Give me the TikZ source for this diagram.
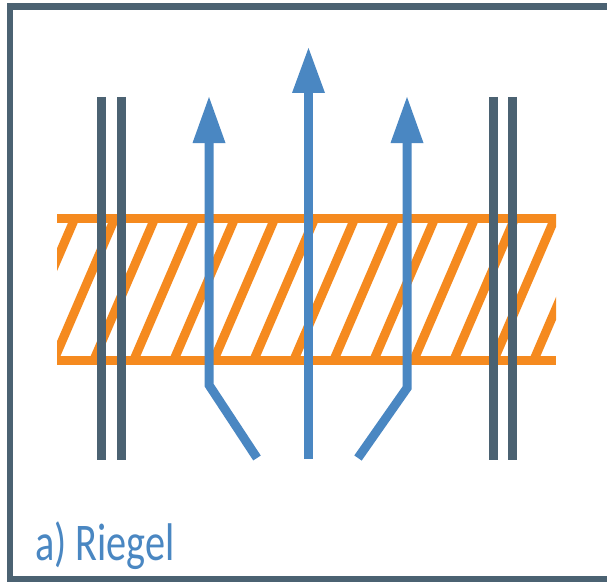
\documentclass[tikz,border=0pt]{standalone}
\usepackage{fontspec}
\newfontfamily\labelfont{Carlito}
\definecolor{slate}{HTML}{4B6272}
\definecolor{rorange}{HTML}{F58A1F}
\definecolor{rblue}{HTML}{4A87C2}
\begin{document}
\begin{tikzpicture}[x=1pt,y=-1pt,
  frame/.style={draw=slate,line width=6.5pt},
  barline/.style={draw=rorange,line width=9pt},
  hatchline/.style={draw=rorange,line width=9pt},
  wall/.style={draw=slate,line width=9pt},
  flow/.style={draw=rblue,line width=9pt,line join=miter},
  flowhead/.style={fill=rblue},
  lbl/.style={text=rblue,font=\labelfont\fontsize{53}{53}\selectfont,inner sep=0pt,anchor=base west,xscale=0.76,transform shape}]
\useasboundingbox (0,0) rectangle (607,583);
\fill[white] (0,0) rectangle (607,583);
% frame (right side lies outside the picture)
\begin{scope}
\clip (0,0) rectangle (607,583);
\draw[frame] (10,6.5) rectangle (640,579);
\end{scope}
% hatching
\begin{scope}
\clip (57,214) rectangle (556,364);
\foreach \k in {-1,...,14}{
  \pgfmathsetmacro{\xt}{74.7+40*\k}
  \draw[hatchline] (\xt+3.7,210) -- (\xt-64.3,368);
}
\end{scope}
\draw[barline] (57,218.5) -- (556,218.5);
\draw[barline] (57,360) -- (556,360);
% walls
\draw[wall] (101,97) -- (101,460);
\draw[wall] (121,97) -- (121,460);
\draw[wall] (493,97) -- (493,460);
\draw[wall] (512.5,97) -- (512.5,460);
% flow arrows
\coordinate (lstart) at (257,458);
\coordinate (lbend) at (209,385);
\coordinate (ltop) at (209,142);
\coordinate (cstart) at (308.5,459);
\coordinate (ctop) at (308.5,92);
\coordinate (rstart) at (358,458);
\coordinate (rbend) at (407,388);
\coordinate (rtop) at (407,142);
\draw[flow] (lstart) -- (lbend) -- (ltop);
\draw[flow] (cstart) -- (ctop);
\draw[flow] (rstart) -- (rbend) -- (rtop);
\fill[flowhead] (209,97) -- (225.5,143) -- (192.5,143) -- cycle;
\fill[flowhead] (308.5,48) -- (325,93) -- (292,93) -- cycle;
\fill[flowhead] (407,97) -- (423.5,143) -- (390.5,143) -- cycle;
% label
\node[lbl] (title) at (35,560) {a) Riegel};
\end{tikzpicture}
\end{document}
